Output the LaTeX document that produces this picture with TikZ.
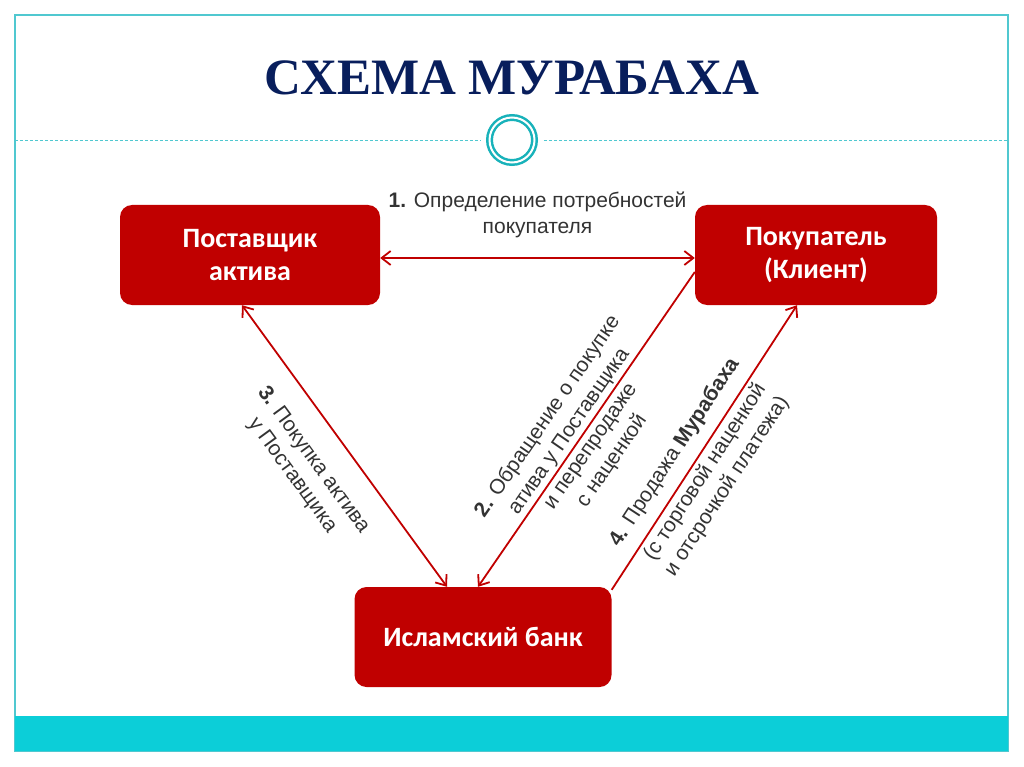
\documentclass[tikz,border=0pt]{standalone}
\usepackage{fontspec}
\newfontfamily\titlefont{Liberation Serif}
\newfontfamily\boxfont{Carlito}
\newfontfamily\labelfont{Liberation Sans}
\usetikzlibrary{positioning, arrows.meta, calc}
\definecolor{cR}{RGB}{192,0,0}
\definecolor{cT}{RGB}{8,30,92}
\definecolor{cC}{RGB}{12,206,216}
\definecolor{cL}{RGB}{80,200,208}
\definecolor{cO}{RGB}{24,178,186}

\begin{document}
\begin{tikzpicture}[x=1pt, y=-1pt, >={Straight Barb[length=9pt,width=14pt]},
                    block/.style={fill=cR, rounded corners=12pt, minimum width=260pt, minimum height=100pt,
                                  text=white, align=center, font=\boxfont\bfseries\fontsize{28}{33}\selectfont},
                    link/.style={draw=cR, line width=1.8pt},
                    tag/.style={sloped, align=center, text=black!80, font=\labelfont\fontsize{21}{26}\selectfont}]
    \useasboundingbox (0,0) rectangle (1024,767);

    % Slide Frame
    \draw[cL, line width=1.2pt] (15,15) rectangle (1008,751);
    \fill[cC] (15,716) rectangle (1008,751);
    \node[text=cT, font=\titlefont\bfseries\fontsize{51}{60}\selectfont] (title) at (512,78) {СХЕМА МУРАБАХА};
    \node[circle, draw=cO, line width=2.5pt, double=white, double distance=2pt, minimum size=45pt, inner sep=0pt] (ring) at (512,140) {};
    \coordinate (rl) at (15,141);
    \coordinate (rr) at (1008,141);
    \draw[cL, line width=1pt, dash pattern=on 3pt off 2pt] (rl) -- ([xshift=-8pt]ring.west |- rl);
    \draw[cL, line width=1pt, dash pattern=on 3pt off 2pt] ([xshift=8pt]ring.east |- rr) -- (rr);

    % Node Placements
    \node[block] (sup)  at (250,255) {Поставщик\\актива};
    \node[block, minimum width=242pt] (cli)  at (816,255) {Покупатель\\(Клиент)};
    \node[block, minimum width=257pt] (bank) at (483,637) {Исламский банк};

    % Graph Path Operations
    \path[link, <->] ([yshift=-3pt]sup.east) -- node[tag, above=16pt] {\textbf{1.} Определение потребностей\\покупателя} ([yshift=-3pt]cli.west);
    \path[link, <-] ([xshift=-5pt]bank.north) -- node[tag, pos=0.47] {\textbf{2.} Обращение о покупке\\атива у Поставщика\\и перепродаже\\с наценкой} ([yshift=-17pt]cli.west);
    \path[link, <->] ([xshift=-8pt]sup.south) -- node[tag, pos=0.48, below=20pt] {\textbf{3.} Покупка актива\\у Поставщика} ([xshift=-36pt]bank.north);
    \path[link, ->] ([yshift=-3pt]bank.north east) -- node[tag, pos=0.44, above=8pt] {\textbf{4.} Продажа \textbf{Мурабаха}}
                                                    node[tag, pos=0.44, below=0pt] {(с торговой наценкой\\и отсрочкой платежа)} ([xshift=-19pt]cli.south);
\end{tikzpicture}
\end{document}
